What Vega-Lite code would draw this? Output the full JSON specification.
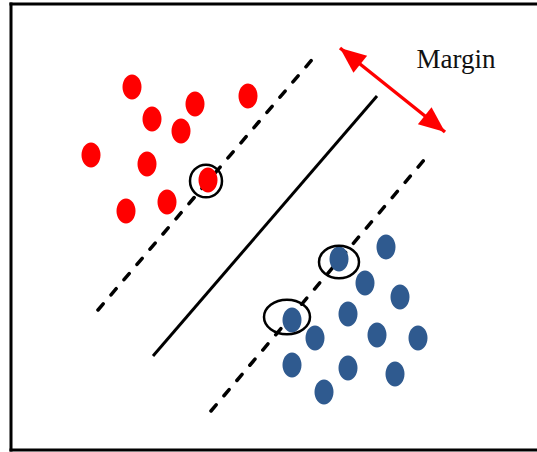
{
  "$schema": "https://vega.github.io/schema/vega-lite/v6.json",
  "width": 526,
  "height": 446,
  "autosize": {"type": "none"},
  "padding": {"left": 11, "top": 4, "right": 0, "bottom": 2},
  "background": "white",
  "config": {"view": {"stroke": null}},
  "datasets": {
    "pts": [
      {"x": 121, "y": 83, "cls": "red"},
      {"x": 141, "y": 115, "cls": "red"},
      {"x": 184, "y": 100, "cls": "red"},
      {"x": 170, "y": 127, "cls": "red"},
      {"x": 237, "y": 92, "cls": "red"},
      {"x": 80, "y": 151, "cls": "red"},
      {"x": 136, "y": 160, "cls": "red"},
      {"x": 197, "y": 176, "cls": "red"},
      {"x": 115, "y": 207, "cls": "red"},
      {"x": 156, "y": 198, "cls": "red"},
      {"x": 375, "y": 243, "cls": "blue"},
      {"x": 328, "y": 255, "cls": "blue"},
      {"x": 354, "y": 279, "cls": "blue"},
      {"x": 389, "y": 293, "cls": "blue"},
      {"x": 281, "y": 316, "cls": "blue"},
      {"x": 337, "y": 310, "cls": "blue"},
      {"x": 304, "y": 334, "cls": "blue"},
      {"x": 366, "y": 331, "cls": "blue"},
      {"x": 407, "y": 334, "cls": "blue"},
      {"x": 281, "y": 361, "cls": "blue"},
      {"x": 337, "y": 364, "cls": "blue"},
      {"x": 384, "y": 370, "cls": "blue"},
      {"x": 313, "y": 388, "cls": "blue"}
    ],
    "lines": [
      {"line": "hyperplane", "kind": "solid", "x": 142, "y": 352},
      {"line": "hyperplane", "kind": "solid", "x": 366, "y": 92},
      {"line": "upper", "kind": "dashed", "x": 87, "y": 306},
      {"line": "upper", "kind": "dashed", "x": 305, "y": 51},
      {"line": "lower", "kind": "dashed", "x": 200, "y": 407},
      {"line": "lower", "kind": "dashed", "x": 419, "y": 149}
    ],
    "rings": [
      {"sv": "a", "x": 195, "y": 177},
      {"sv": "b", "x": 328, "y": 258},
      {"sv": "c", "x": 276, "y": 313}
    ],
    "arrow": [
      {"end": "start", "x": 329, "y": 44},
      {"end": "end", "x": 434, "y": 128}
    ],
    "label": [
      {"x": 445, "y": 64, "text": "Margin"}
    ]
  },
  "layer": [
    {
      "data": {"values": [{}]},
      "mark": {"type": "rule", "stroke": "black", "strokeWidth": 3, "strokeCap": "square"},
      "encoding": {"x": {"datum": 0, "type": "quantitative", "scale": {"domain": [0, 526], "nice": false, "zero": false}, "axis": null}}
    },
    {
      "data": {"values": [{}]},
      "mark": {"type": "rule", "stroke": "black", "strokeWidth": 3, "strokeCap": "square"},
      "encoding": {"y": {"datum": 0, "type": "quantitative", "scale": {"domain": [0, 446], "reverse": true, "nice": false, "zero": false}, "axis": null}}
    },
    {
      "data": {"values": [{}]},
      "mark": {"type": "rule", "stroke": "black", "strokeWidth": 3, "strokeCap": "square"},
      "encoding": {"y": {"datum": 446, "type": "quantitative", "axis": null}}
    },
    {
      "data": {"name": "lines"},
      "transform": [{"filter": "datum.kind === 'solid'"}],
      "mark": {"type": "line", "stroke": "black", "strokeWidth": 3},
      "encoding": {
        "x": {"field": "x", "type": "quantitative", "axis": null},
        "y": {"field": "y", "type": "quantitative", "axis": null},
        "detail": {"field": "line"}
      }
    },
    {
      "data": {"name": "lines"},
      "transform": [{"filter": "datum.kind === 'dashed'"}],
      "mark": {"type": "line", "stroke": "black", "strokeWidth": 3.5, "strokeCap": "round", "strokeDash": [8, 12]},
      "encoding": {
        "x": {"field": "x", "type": "quantitative", "axis": null},
        "y": {"field": "y", "type": "quantitative", "axis": null},
        "detail": {"field": "line"}
      }
    },
    {
      "data": {"name": "pts"},
      "mark": {"type": "point", "filled": true, "opacity": 1, "size": 625, "strokeWidth": 0,
        "shape": "M0.76,0 C0.76,0.5523 0.42,1 0,1 C-0.42,1 -0.76,0.5523 -0.76,0 C-0.76,-0.5523 -0.42,-1 0,-1 C0.42,-1 0.76,-0.5523 0.76,0 Z"},
      "encoding": {
        "x": {"field": "x", "type": "quantitative", "axis": null},
        "y": {"field": "y", "type": "quantitative", "axis": null},
        "color": {"field": "cls", "type": "nominal", "scale": {"domain": ["red", "blue"], "range": ["#ff0000", "#2f5a8f"]}, "legend": null}
      }
    },
    {
      "data": {"name": "rings"},
      "mark": {"type": "point", "filled": false, "opacity": 1, "size": 1600, "stroke": "black", "strokeWidth": 2.5},
      "encoding": {
        "x": {"field": "x", "type": "quantitative", "axis": null},
        "y": {"field": "y", "type": "quantitative", "axis": null},
        "shape": {"field": "sv", "type": "nominal", "legend": null, "scale": {"domain": ["a", "b", "c"], "range": [
          "M0.8,0 C0.8,0.451 0.442,0.817 0,0.817 C-0.442,0.817 -0.8,0.451 -0.8,0 C-0.8,-0.451 -0.442,-0.817 0,-0.817 C0.442,-0.817 0.8,-0.451 0.8,0 Z",
          "M1.0,0 C1.0,0.451 0.5523,0.817 0,0.817 C-0.5523,0.817 -1.0,0.451 -1.0,0 C-1.0,-0.451 -0.5523,-0.817 0,-0.817 C0.5523,-0.817 1.0,-0.451 1.0,0 Z",
          "M1.15,0 C1.15,0.478 0.635,0.866 0,0.866 C-0.635,0.866 -1.15,0.478 -1.15,0 C-1.15,-0.478 -0.635,-0.866 0,-0.866 C0.635,-0.866 1.15,-0.478 1.15,0 Z"
        ]}}
      }
    },
    {
      "data": {"name": "arrow"},
      "mark": {"type": "line", "stroke": "#ff0000", "strokeWidth": 3.5},
      "encoding": {
        "x": {"field": "x", "type": "quantitative", "axis": null},
        "y": {"field": "y", "type": "quantitative", "axis": null}
      }
    },
    {
      "data": {"name": "arrow"},
      "transform": [{"filter": "datum.end === 'start'"}],
      "mark": {"type": "point", "filled": true, "opacity": 1, "color": "#ff0000", "strokeWidth": 0, "size": 2704, "angle": 308.7,
        "shape": "M0,0 L0.42,1 L-0.42,1 Z"},
      "encoding": {
        "x": {"field": "x", "type": "quantitative", "axis": null},
        "y": {"field": "y", "type": "quantitative", "axis": null}
      }
    },
    {
      "data": {"name": "arrow"},
      "transform": [{"filter": "datum.end === 'end'"}],
      "mark": {"type": "point", "filled": true, "opacity": 1, "color": "#ff0000", "strokeWidth": 0, "size": 2704, "angle": 128.7,
        "shape": "M0,0 L0.42,1 L-0.42,1 Z"},
      "encoding": {
        "x": {"field": "x", "type": "quantitative", "axis": null},
        "y": {"field": "y", "type": "quantitative", "axis": null}
      }
    },
    {
      "data": {"name": "label"},
      "mark": {"type": "text", "font": "Liberation Serif", "fontSize": 27, "color": "#111111", "align": "center", "baseline": "alphabetic"},
      "encoding": {
        "x": {"field": "x", "type": "quantitative", "axis": null},
        "y": {"field": "y", "type": "quantitative", "axis": null},
        "text": {"field": "text"}
      }
    }
  ]
}
